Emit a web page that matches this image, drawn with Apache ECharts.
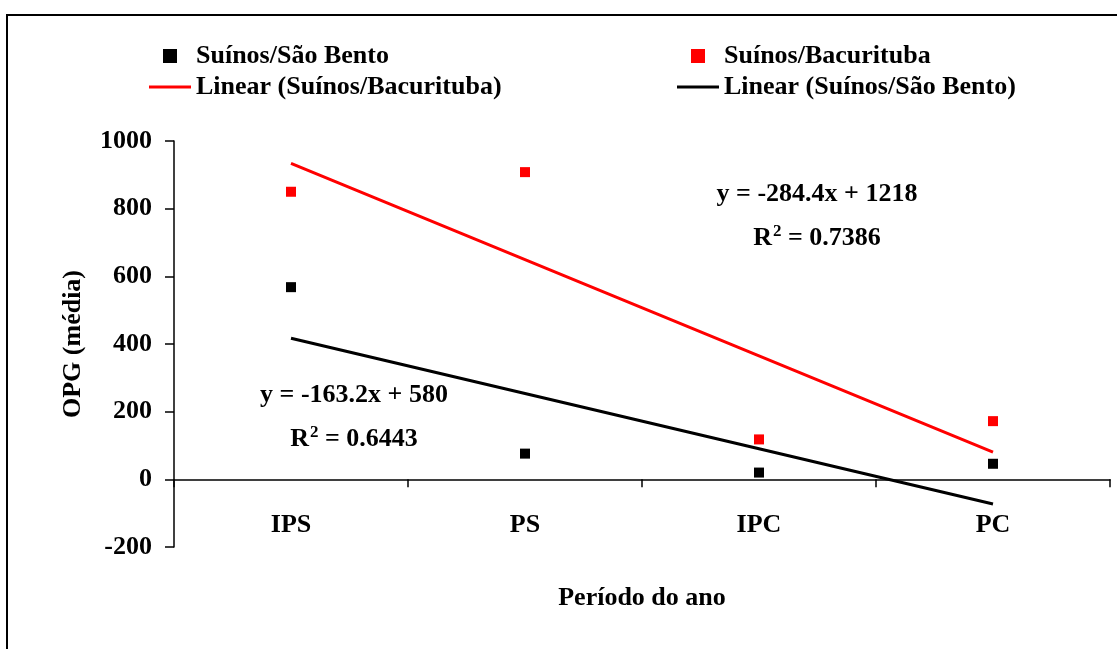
<!DOCTYPE html>
<html>
<head>
<meta charset="utf-8">
<script src="https://cdn.jsdelivr.net/npm/echarts@6/dist/echarts.min.js"></script>
<style>
html,body{margin:0;padding:0;background:#fff;}
#chart{width:1117px;height:649px;}
</style>
</head>
<body>
<div id="chart"></div>
<script>
// ---- data ----
const categories = ['IPS', 'PS', 'IPC', 'PC'];
const saoBento = [568, 76, 20, 46];
const bacurituba = [850, 908, 118, 172];
// linear trend coefficients [slope, intercept] as shown in the chart
const saoBentoFit = [-163.2, 580];
const bacuritubaFit = [-284.4, 1218];
const saoBentoR2 = '0.6443';
const bacuritubaR2 = '0.7386';
const yMin = -200, yMax = 1000, yStep = 200;

const fitLine = (c) => categories.map((_, i) => +(c[0] * (i + 1) + c[1]).toFixed(2));
const fmtEq = (c) => 'y = ' + c[0] + 'x + ' + c[1];

const FONT = '"Liberation Serif", "Times New Roman", serif';
const chart = echarts.init(document.getElementById('chart'));

const txt = (x, y, s) => ({
  type: 'text', x: x, y: y, z: 100,
  style: { text: s, font: 'bold 26px ' + FONT, fill: '#000', align: 'center', verticalAlign: 'middle' }
});
const r2 = (x, y, v) => ({
  type: 'text', x: x, y: y, z: 100,
  style: {
    text: '{a|R}{s|2}{a| = ' + v + '}',
    align: 'center', verticalAlign: 'middle',
    rich: {
      a: { fontFamily: FONT, fontWeight: 'bold', fontSize: 26, lineHeight: 30, fill: '#000', color: '#000' },
      s: { fontFamily: FONT, fontWeight: 'bold', fontSize: 17, lineHeight: 30, fill: '#000', color: '#000', verticalAlign: 'top', padding: [0, 0, 14, 1] }
    }
  }
});

const legendCommon = {
  orient: 'vertical',
  top: 38,
  padding: 5,
  itemWidth: 42,
  itemHeight: 14,
  itemGap: 5,
  textStyle: { fontFamily: FONT, fontWeight: 'bold', fontSize: 26, color: '#000', lineHeight: 26 },
  selectedMode: false
};
const sqIcon = 'path://M0,0H10V10H0Z';
const lnIcon = 'path://M0,0H40V3H0Z';

chart.setOption({
  animation: false,
  backgroundColor: '#fff',
  grid: { left: 174, right: 7, top: 141, bottom: 102, containLabel: false, outerBoundsMode: 'none' },
  legend: [
    Object.assign({}, legendCommon, {
      left: 144,
      data: [
        { name: 'Suínos/São Bento', icon: sqIcon },
        { name: 'Linear (Suínos/Bacurituba)', icon: lnIcon }
      ]
    }),
    Object.assign({}, legendCommon, {
      left: 672,
      data: [
        { name: 'Suínos/Bacurituba', icon: sqIcon },
        { name: 'Linear (Suínos/São Bento)', icon: lnIcon }
      ]
    })
  ],
  xAxis: {
    type: 'category',
    data: categories,
    boundaryGap: true,
    name: 'Período do ano',
    nameLocation: 'middle',
    nameGap: 38,
    nameTextStyle: { fontFamily: FONT, fontWeight: 'bold', fontSize: 26, color: '#000' },
    axisLine: { onZero: true, lineStyle: { color: '#000', width: 1.5 } },
    axisTick: { show: true, length: 8, inside: false, lineStyle: { color: '#000', width: 1.5 } },
    axisLabel: { margin: -35, fontFamily: FONT, fontWeight: 'bold', fontSize: 26, color: '#000' },
    splitLine: { show: false }
  },
  yAxis: {
    type: 'value',
    min: yMin, max: yMax, interval: yStep,
    name: 'OPG (média)',
    nameLocation: 'middle',
    nameGap: 88,
    nameRotate: 90,
    nameTextStyle: { fontFamily: FONT, fontWeight: 'bold', fontSize: 26, color: '#000' },
    axisLine: { show: true, lineStyle: { color: '#000', width: 1.5 } },
    axisTick: { show: true, length: 9, lineStyle: { color: '#000', width: 1.5 } },
    axisLabel: { margin: 22, fontFamily: FONT, fontWeight: 'bold', fontSize: 26, color: '#000', formatter: (v) => String(v) },
    splitLine: { show: false }
  },
  series: [
    {
      name: 'Linear (Suínos/Bacurituba)', type: 'line', data: fitLine(bacuritubaFit),
      showSymbol: false, symbol: 'none', color: '#ff0000',
      lineStyle: { color: '#ff0000', width: 3 }, itemStyle: { color: '#ff0000' }, z: 2
    },
    {
      name: 'Linear (Suínos/São Bento)', type: 'line', data: fitLine(saoBentoFit),
      showSymbol: false, symbol: 'none', color: '#000',
      lineStyle: { color: '#000', width: 3 }, itemStyle: { color: '#000' }, z: 2
    },
    {
      name: 'Suínos/São Bento', type: 'scatter', data: saoBento,
      symbol: 'rect', symbolSize: 10, itemStyle: { color: '#000', opacity: 1 }, z: 3
    },
    {
      name: 'Suínos/Bacurituba', type: 'scatter', data: bacurituba,
      symbol: 'rect', symbolSize: 10, itemStyle: { color: '#ff0000', opacity: 1 }, z: 3
    }
  ],
  graphic: [
    { type: 'rect', shape: { x: 7, y: 15, width: 1130, height: 700 }, style: { fill: 'none', stroke: '#000', lineWidth: 2 }, z: -1, silent: true },
    txt(817, 194, fmtEq(bacuritubaFit)),
    r2(817, 238, bacuritubaR2),
    txt(354, 395, fmtEq(saoBentoFit)),
    r2(354, 439, saoBentoR2)
  ]
});
</script>
</body>
</html>
